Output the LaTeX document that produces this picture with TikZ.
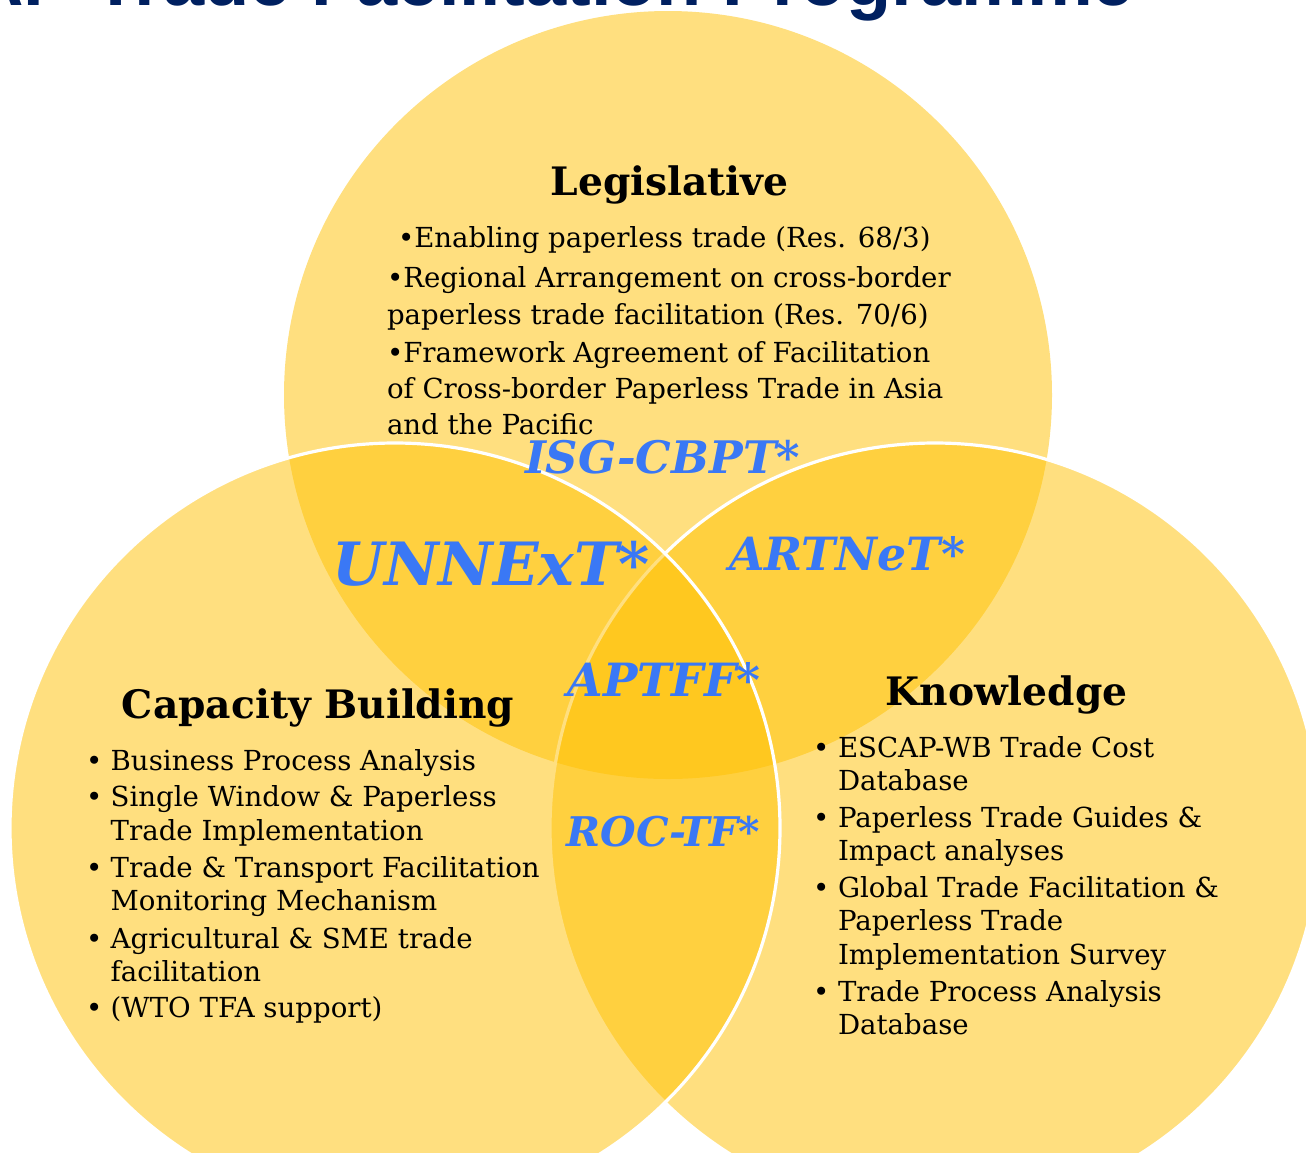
\documentclass[tikz,border=0pt]{standalone}
\usepackage{fontspec}
\setmainfont{DejaVu Serif}
\newfontfamily\titlefont{Liberation Sans}
\definecolor{gold}{RGB}{255,192,0}
\definecolor{navy}{RGB}{0,32,96}
\definecolor{labelblue}{RGB}{58,120,245}
\tikzset{
  vennfill/.style={fill=gold, fill opacity=0.5},
  vennedge/.style={fill=gold, fill opacity=0.5, draw=white, draw opacity=1, line width=3.2pt},
  head/.style={font=\bfseries\fontsize{39.2}{39.2}\selectfont, inner sep=0pt, outer sep=0pt, anchor=base},
  body/.style={font=\fontsize{27.6}{27.6}\selectfont, inner sep=0pt, outer sep=0pt, anchor=base west},
  tag/.style={text=labelblue, inner sep=0pt, outer sep=0pt, anchor=base},
}
\begin{document}
\begin{tikzpicture}[x=1pt,y=-1pt]
\useasboundingbox (0,0) rectangle (1306,1152);
\clip (0,0) rectangle (1306,1152);
% title (cut off at the top edge)
\node[font=\titlefont\bfseries\fontsize{74}{74}\selectfont, text=navy, inner sep=0pt, outer sep=0pt, anchor=base east] (title) at (1134,5) {ESCAP Trade Facilitation Programme};
% circles
\path[vennfill] (668,395) circle[radius=384pt];
\path[vennedge] (935,828) circle[radius=385pt];
\path[vennedge] (395,828) circle[radius=385pt];
% Legislative
\node[head] (leg) at (669.5,195) {Legislative};
\node[body] (leg1) at (398,247) {•Enabling paperless trade (Res. 68/3)};
\node[body] (leg2) at (387,287) {•Regional Arrangement on cross-border};
\node[body] (leg3) at (387,324) {paperless trade facilitation (Res. 70/6)};
\node[body] (leg4) at (387,362) {•Framework Agreement of Facilitation};
\node[body] (leg5) at (387,398) {of Cross-border Paperless Trade in Asia};
\node[body] (leg6) at (387,434) {and the Pacific};
% overlap labels
\node[tag, font=\bfseries\itshape\fontsize{44.8}{44.8}\selectfont] (isg) at (662.5,473) {ISG-CBPT*};
\node[tag, font=\bfseries\itshape\fontsize{59.7}{59.7}\selectfont] (unnext) at (491,585) {UNNExT*};
\node[tag, font=\bfseries\itshape\fontsize{45.8}{45.8}\selectfont] (artnet) at (847,570) {ARTNeT*};
\node[tag, font=\bfseries\itshape\fontsize{45.8}{45.8}\selectfont] (aptff) at (664,696) {APTFF*};
\node[tag, font=\bfseries\itshape\fontsize{40.9}{40.9}\selectfont] (roctf) at (663.5,846) {ROC-TF*};
% Capacity Building
\node[head] (cap) at (318,718) {Capacity Building};
\foreach \n/\y in {1/770,2/806.7,3/877,4/948,5/1017}
  \node[body] (capb\n) at (86,\y) {•};
\node[body] (cap1) at (110.7,770) {Business Process Analysis};
\node[body] (cap2) at (110.7,806.7) {Single Window \& Paperless};
\node[body] (cap3) at (110.7,840) {Trade Implementation};
\node[body] (cap4) at (110.7,877) {Trade \& Transport Facilitation};
\node[body] (cap5) at (110.7,910.7) {Monitoring Mechanism};
\node[body] (cap6) at (110.7,948) {Agricultural \& SME trade};
\node[body] (cap7) at (110.7,981.7) {facilitation};
\node[body] (cap8) at (110.7,1017) {(WTO TFA support)};
% Knowledge
\node[head] (know) at (1006.5,705) {Knowledge};
\foreach \n/\y in {1/757,2/827,3/897,4/1001}
  \node[body] (knob\n) at (813,\y) {•};
\node[body] (kno1) at (838,757) {ESCAP-WB Trade Cost};
\node[body] (kno2) at (838,790) {Database};
\node[body] (kno3) at (838,827) {Paperless Trade Guides \&};
\node[body] (kno4) at (838,860) {Impact analyses};
\node[body] (kno5) at (838,897) {Global Trade Facilitation \&};
\node[body] (kno6) at (838,930.5) {Paperless Trade};
\node[body] (kno7) at (838,964) {Implementation Survey};
\node[body] (kno8) at (838,1001) {Trade Process Analysis};
\node[body] (kno9) at (838,1034) {Database};
\end{tikzpicture}
\end{document}
